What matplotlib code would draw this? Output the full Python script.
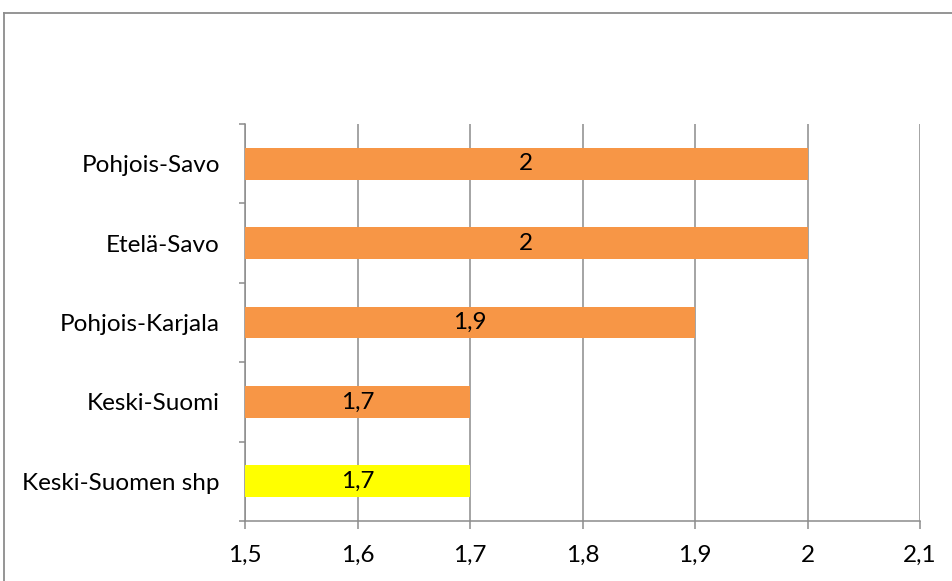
import matplotlib
matplotlib.use("Agg")
import matplotlib.pyplot as plt
from matplotlib.lines import Line2D
import numpy as np

# ─── DATA ────────────────────────────────────────────────────────────────────
categories = ["Keski-Suomen shp", "Keski-Suomi", "Pohjois-Karjala", "Etelä-Savo", "Pohjois-Savo"]
values = [1.7, 1.7, 1.9, 2.0, 2.0]
value_labels = ["1,7", "1,7", "1,9", "2", "2"]
bar_colors = ["#FFFF00", "#F79646", "#F79646", "#F79646", "#F79646"]
x_ticks = [1.5, 1.6, 1.7, 1.8, 1.9, 2.0, 2.1]
x_tick_labels = ["1,5", "1,6", "1,7", "1,8", "1,9", "2", "2,1"]

GRID = "#8c8c8c"
FS = 17.5
plt.rcParams["font.family"] = ["Lato", "DejaVu Sans"]

fig = plt.figure(figsize=(9.52, 5.81), dpi=100)
ax = fig.add_axes([245 / 952, 1 - 521 / 581, 675 / 952, 397 / 581])

x_min = x_ticks[0]
y = np.arange(len(categories))
ax.barh(y, np.array(values) - x_min, left=x_min, height=0.4, color=bar_colors, zorder=3)
for yi, v, lab in zip(y, values, value_labels):
    ax.text((x_min + v) / 2, yi, lab, ha="center", va="center", fontsize=FS, color="black", zorder=4)

ax.set_xlim(x_ticks[0], x_ticks[-1])
ax.set_ylim(-0.5, len(categories) - 0.5)
ax.set_xticks(x_ticks)
ax.set_xticklabels(x_tick_labels, fontsize=FS)
ax.set_yticks(y)
ax.set_yticklabels(categories, fontsize=FS)
ax.set_yticks(np.arange(len(categories) + 1) - 0.5, minor=True)

ax.grid(axis="x", color=GRID, linewidth=1.1, zorder=0)
ax.tick_params(axis="x", length=6, width=1.1, color=GRID, pad=11)
ax.tick_params(axis="y", which="major", length=0, pad=18)
ax.tick_params(axis="y", which="minor", length=4, width=1.1, color=GRID)

for side in ("top", "right"):
    ax.spines[side].set_visible(False)
for side in ("left", "bottom"):
    ax.spines[side].set_color(GRID)
    ax.spines[side].set_linewidth(1.1)

# outer chart frame (cut off at right and bottom)
fx = 3.5 / 952
fy = 1 - 12.5 / 581
fig.add_artist(Line2D([fx, fx], [0, fy], color="#8c8c8c", linewidth=1.3))
fig.add_artist(Line2D([fx, 1], [fy, fy], color="#8c8c8c", linewidth=1.3))

fig.savefig("out.png", dpi=100)
